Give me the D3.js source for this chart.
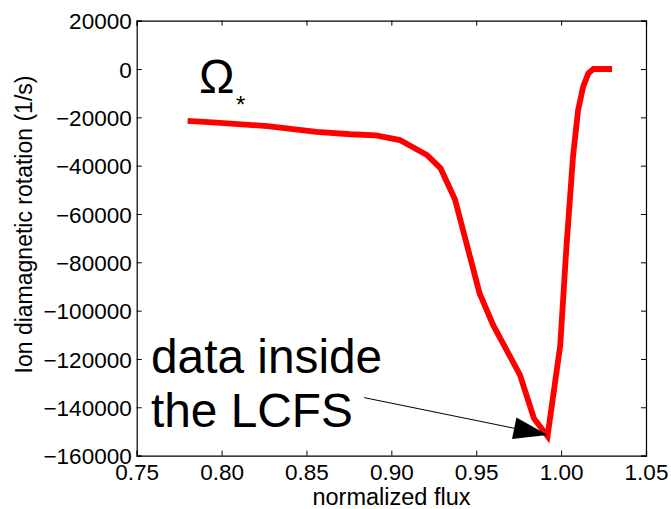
<!DOCTYPE html>
<html><head><meta charset="utf-8">
<script src="https://cdn.jsdelivr.net/npm/d3@7"></script>
<style>body{margin:0;background:#fff}svg{display:block}text{font-family:"Liberation Sans",Arial,sans-serif;fill:#000}</style>
</head><body><svg id="c" width="671" height="509"></svg>
<script>
const fluxValues = [0.78,0.797,0.827,0.856,0.876,0.891,0.905,0.921,0.929,0.9375,0.952,0.960,0.9758,0.984,0.992,0.9995,1.003,1.007,1.010,1.013,1.016,1.019,1.03];
const rotationValues = [-21500,-22200,-23600,-26000,-27000,-27500,-29400,-35600,-41100,-54000,-92900,-106000,-126700,-144600,-152000,-114300,-75000,-36300,-17000,-7300,-1800,0,0];
const xTicks = [0.75,0.80,0.85,0.90,0.95,1.00,1.05];
const yTicks = [20000,0,-20000,-40000,-60000,-80000,-100000,-120000,-140000,-160000];
const xLabel = "normalized flux";
const yLabel = "Ion diamagnetic rotation (1/s)";
const annotationLines = ["data inside","the LCFS"];
const arrowFrom = [0.884, -136000];
const arrowTo = [0.992, -151500];

const svg = d3.select("#c");
const L=136.7,R=646,T=20.7,B=455.6;
const x = d3.scaleLinear().domain([0.75,1.05]).range([L,R]);
const y = d3.scaleLinear().domain([-160000,20000]).range([B,T]);
const fmtX = d3.format(".2f");
const fmtY = v => v<0 ? "\u2212"+Math.abs(v) : String(v);

// line
svg.append("path").datum(fluxValues.map((f,i)=>[f,rotationValues[i]]))
  .attr("d", d3.line().x(d=>x(d[0])).y(d=>y(d[1])))
  .attr("fill","none").attr("stroke","#ff0000").attr("stroke-width",5.8).attr("stroke-linejoin","miter");

// axes
const fs=22.5;
const gB = svg.append("g").attr("transform",`translate(0,${B})`).call(d3.axisBottom(x).tickValues(xTicks).tickFormat(fmtX).tickSize(-5));
const gT = svg.append("g").attr("transform",`translate(0,${T})`).call(d3.axisTop(x).tickValues(xTicks).tickFormat("").tickSize(-5));
const gL = svg.append("g").attr("transform",`translate(${L},0)`).call(d3.axisLeft(y).tickValues(yTicks).tickFormat(fmtY).tickSize(-5));
const gR = svg.append("g").attr("transform",`translate(${R},0)`).call(d3.axisRight(y).tickValues(yTicks).tickFormat("").tickSize(-5));
[gB,gT,gL,gR].forEach(g=>{
  g.select(".domain").attr("stroke","#000").attr("stroke-width",1.2);
  g.selectAll(".tick line").attr("stroke","#000");
  g.selectAll(".tick text").attr("font-size",fs).attr("font-family","Liberation Sans, Arial, sans-serif").attr("fill","#000");
});
gB.selectAll(".tick text").attr("y",24.5).attr("dy",0);
gL.selectAll(".tick text").attr("x",-5).attr("dy","0.36em");

svg.append("text").attr("x",391.5).attr("y",505).attr("text-anchor","middle").attr("font-size",23.5).text(xLabel);
svg.append("text").attr("transform",`translate(32,224.5) rotate(-90)`).attr("text-anchor","middle").attr("font-size",23).text(yLabel);

// Omega star
svg.append("text").attr("x",199).attr("y",93).attr("font-size",47.5).text("\u03A9");
svg.append("text").attr("x",236).attr("y",113).attr("font-size",24).text("*");

// annotation
annotationLines.forEach((t,i)=>{
  svg.append("text").attr("x",151).attr("y",373+i*54).attr("font-size",47.8).text(t);
});
// arrow
const x0=x(arrowFrom[0]),y0=y(arrowFrom[1]),x1=x(arrowTo[0]),y1=y(arrowTo[1]);
const ang=Math.atan2(y1-y0,x1-x0), hl=34, hw=11;
const bx=x1-hl*Math.cos(ang), by=y1-hl*Math.sin(ang);
svg.append("line").attr("x1",x0).attr("y1",y0).attr("x2",bx).attr("y2",by).attr("stroke","#000").attr("stroke-width",1);
svg.append("path").attr("d",`M${x1},${y1}L${bx+hw*Math.sin(ang)},${by-hw*Math.cos(ang)}L${bx-hw*Math.sin(ang)},${by+hw*Math.cos(ang)}Z`).attr("fill","#000");
</script></body></html>
